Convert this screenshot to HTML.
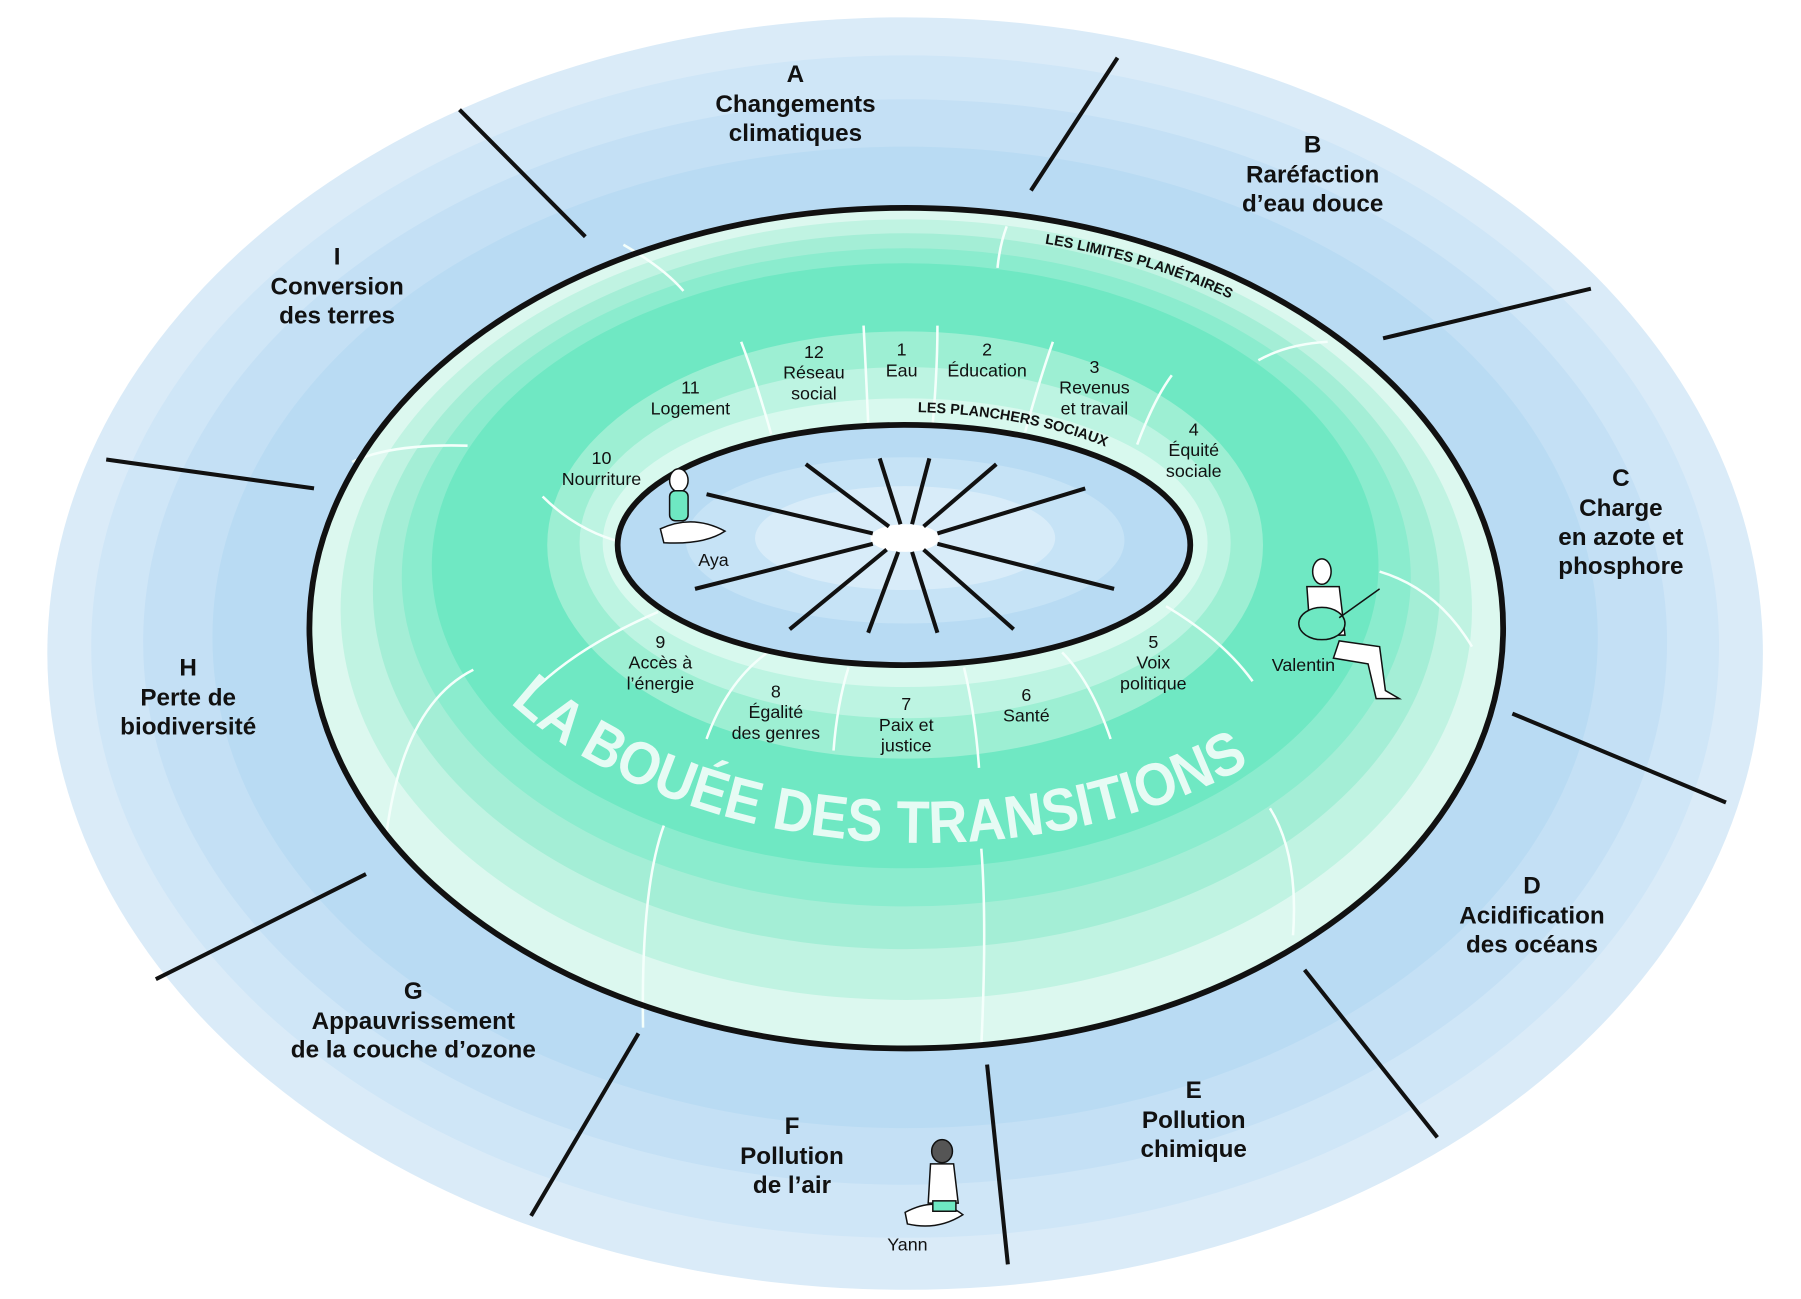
<!DOCTYPE html>
<html><head><meta charset="utf-8"><style>
html,body{margin:0;padding:0;background:#fff;}
svg{display:block;}
.s{font-family:"Liberation Sans",sans-serif;font-weight:bold;font-size:21px;fill:#111;text-anchor:middle;}
.n{font-family:"Liberation Sans",sans-serif;font-size:15.5px;fill:#111;text-anchor:middle;}
.bl{stroke:#111;stroke-width:3.5;}
.wl{stroke:#f4fffb;stroke-width:2.2;fill:none;}
</style></head><body>
<svg width="1801" height="1299" viewBox="0 0 1560 1125" preserveAspectRatio="none">
<rect width="1560" height="1125" fill="#fff"/>
<ellipse cx="784" cy="566" rx="743" ry="551" fill="#daebf8"/>
<ellipse cx="784" cy="560" rx="705" ry="512" fill="#cfe6f7"/>
<ellipse cx="784" cy="556" rx="660" ry="470" fill="#c4e0f5"/>
<ellipse cx="784" cy="552" rx="600" ry="425" fill="#b9dbf3"/>
<g class="bl">
<line x1="398" y1="95" x2="507" y2="205"/>
<line x1="968" y1="50" x2="893" y2="165"/>
<line x1="1378" y1="250" x2="1198" y2="293"/>
<line x1="1310" y1="618" x2="1495" y2="695"/>
<line x1="1130" y1="840" x2="1245" y2="985"/>
<line x1="855" y1="922" x2="873" y2="1095"/>
<line x1="553" y1="895" x2="460" y2="1053"/>
<line x1="317" y1="757" x2="135" y2="848"/>
<line x1="92" y1="398" x2="272" y2="423"/>
</g>
<ellipse cx="785" cy="544" rx="517" ry="364" fill="#dcf8ef"/>
<ellipse cx="785" cy="528" rx="490" ry="338" fill="#c0f3e2"/>
<ellipse cx="785" cy="512" rx="462" ry="310" fill="#a4eed6"/>
<ellipse cx="785" cy="500" rx="437" ry="285" fill="#8becce"/>
<ellipse cx="784" cy="490" rx="410" ry="262" fill="#6fe8c3"/>
<ellipse cx="784" cy="472" rx="310" ry="185" fill="#9defd3"/>
<ellipse cx="784" cy="470" rx="282" ry="152" fill="#bdf4e2"/>
<ellipse cx="784" cy="470" rx="262" ry="125" fill="#d8f9ee"/>
<g class="wl">
<path d="M872,196 Q866,212 864,232"/>
<path d="M540,212 Q575,232 592,252"/>
<path d="M1090,312 Q1115,298 1150,296"/>
<path d="M1195,495 Q1245,510 1275,560"/>
<path d="M305,400 Q340,384 405,386"/>
<path d="M335,720 Q350,610 410,580"/>
<path d="M557,890 Q555,770 575,715"/>
<path d="M850,906 Q855,800 850,735"/>
<path d="M1120,810 Q1125,740 1100,700"/>
<path d="M642,296 Q655,330 668,376"/>
<path d="M748,282 Q750,320 752,366"/>
<path d="M812,282 Q812,320 808,366"/>
<path d="M912,296 Q900,330 888,374"/>
<path d="M1015,325 Q1000,345 985,385"/>
<path d="M460,600 Q500,560 570,530"/>
<path d="M612,640 Q630,590 665,565"/>
<path d="M722,650 Q725,610 735,578"/>
<path d="M848,665 Q845,620 835,578"/>
<path d="M962,640 Q945,590 920,565"/>
<path d="M1085,590 Q1060,555 1010,525"/>
<path d="M470,430 Q500,460 540,470" />
</g>
<ellipse cx="785" cy="544" rx="517" ry="364" fill="none" stroke="#111" stroke-width="5"/>
<ellipse cx="783" cy="472" rx="248" ry="104" fill="#b8dbf3" stroke="#111" stroke-width="5"/>
<ellipse cx="784" cy="468" rx="190" ry="72" fill="#c6e3f6"/>
<ellipse cx="784" cy="466" rx="130" ry="45" fill="#d8ecf9"/>
<ellipse cx="784" cy="466" rx="30" ry="12" fill="#fff"/>
<g class="bl">
<line x1="612" y1="428" x2="756" y2="462"/><line x1="965" y1="510" x2="812" y2="471"/>
<line x1="698" y1="402" x2="770" y2="456"/><line x1="878" y1="545" x2="800" y2="476"/>
<line x1="762" y1="397" x2="780" y2="454"/><line x1="812" y1="548" x2="790" y2="478"/>
<line x1="805" y1="397" x2="790" y2="454"/><line x1="752" y1="548" x2="778" y2="478"/>
<line x1="863" y1="402" x2="800" y2="456"/><line x1="684" y1="545" x2="768" y2="476"/>
<line x1="940" y1="423" x2="812" y2="462"/><line x1="602" y1="510" x2="756" y2="471"/>
</g>
<defs>
<path id="big" d="M 360,440 A 440 290 0 0 0 1240,440"/>
<path id="lp" d="M 905,211 A 495 345 0 0 1 1100,276"/>
<path id="ps" d="M 795,357 A 262 116 0 0 1 980,397"/>
</defs>
<text font-family="Liberation Sans,sans-serif" font-weight="bold" font-size="52" fill="#e6fbf4" text-anchor="middle"><textPath href="#big" startOffset="46%" textLength="680" lengthAdjust="spacingAndGlyphs">LA BOUÉE DES TRANSITIONS</textPath></text>
<text font-family="Liberation Sans,sans-serif" font-weight="bold" font-size="12.5" fill="#111"><textPath href="#lp">LES LIMITES PLANÉTAIRES</textPath></text>
<text font-family="Liberation Sans,sans-serif" font-weight="bold" font-size="12.5" fill="#111"><textPath href="#ps">LES PLANCHERS SOCIAUX</textPath></text>
<text class="s" x="689" y="71">A<tspan x="689" dy="26">Changements</tspan><tspan x="689" dy="25">climatiques</tspan></text>
<text class="s" x="1137" y="132">B<tspan x="1137" dy="26">Raréfaction</tspan><tspan x="1137" dy="25">d’eau douce</tspan></text>
<text class="s" x="1404" y="421">C<tspan x="1404" dy="26">Charge</tspan><tspan x="1404" dy="25">en azote et</tspan><tspan x="1404" dy="25">phosphore</tspan></text>
<text class="s" x="1327" y="774">D<tspan x="1327" dy="26">Acidification</tspan><tspan x="1327" dy="25">des océans</tspan></text>
<text class="s" x="1034" y="951">E<tspan x="1034" dy="26">Pollution</tspan><tspan x="1034" dy="25">chimique</tspan></text>
<text class="s" x="686" y="982">F<tspan x="686" dy="26">Pollution</tspan><tspan x="686" dy="25">de l’air</tspan></text>
<text class="s" x="358" y="865">G<tspan x="358" dy="26">Appauvrissement</tspan><tspan x="358" dy="25">de la couche d’ozone</tspan></text>
<text class="s" x="163" y="585">H<tspan x="163" dy="26">Perte de</tspan><tspan x="163" dy="25">biodiversité</tspan></text>
<text class="s" x="292" y="229">I<tspan x="292" dy="26">Conversion</tspan><tspan x="292" dy="25">des terres</tspan></text>
<text class="n" x="781" y="308">1<tspan x="781" dy="18">Eau</tspan></text>
<text class="n" x="855" y="308">2<tspan x="855" dy="18">Éducation</tspan></text>
<text class="n" x="948" y="323">3<tspan x="948" dy="18">Revenus</tspan><tspan x="948" dy="18">et travail</tspan></text>
<text class="n" x="1034" y="377">4<tspan x="1034" dy="18">Équité</tspan><tspan x="1034" dy="18">sociale</tspan></text>
<text class="n" x="999" y="561">5<tspan x="999" dy="18">Voix</tspan><tspan x="999" dy="18">politique</tspan></text>
<text class="n" x="889" y="607">6<tspan x="889" dy="18">Santé</tspan></text>
<text class="n" x="785" y="615">7<tspan x="785" dy="18">Paix et</tspan><tspan x="785" dy="18">justice</tspan></text>
<text class="n" x="672" y="604">8<tspan x="672" dy="18">Égalité</tspan><tspan x="672" dy="18">des genres</tspan></text>
<text class="n" x="572" y="561">9<tspan x="572" dy="18">Accès à</tspan><tspan x="572" dy="18">l’énergie</tspan></text>
<text class="n" x="521" y="402">10<tspan x="521" dy="18">Nourriture</tspan></text>
<text class="n" x="598" y="341">11<tspan x="598" dy="18">Logement</tspan></text>
<text class="n" x="705" y="310">12<tspan x="705" dy="18">Réseau</tspan><tspan x="705" dy="18">social</tspan></text>
<g stroke="#111" stroke-width="1.3">
<ellipse cx="588" cy="416" rx="8" ry="10" fill="#fff"/>
<rect x="580" y="425" width="16" height="26" rx="5" fill="#6ee8c2"/>
<path d="M572,458 Q600,445 628,460 Q610,472 575,470Z" fill="#fff"/>
<ellipse cx="1145" cy="495" rx="8" ry="11" fill="#fff"/>
<path d="M1132,508 L1160,508 L1165,550 L1135,550Z" fill="#fff"/>
<ellipse cx="1145" cy="540" rx="20" ry="14" fill="#6ee8c2"/>
<line x1="1160" y1="535" x2="1195" y2="510"/>
<path d="M1160,555 L1195,560 L1200,598 L1212,605 L1192,605 L1185,575 L1155,570Z" fill="#fff"/>
<ellipse cx="816" cy="997" rx="9" ry="10" fill="#555"/>
<path d="M806,1008 L826,1008 L830,1042 L804,1042Z" fill="#fff"/>
<path d="M784,1050 Q812,1035 834,1052 Q812,1066 786,1060Z" fill="#fff"/>
<rect x="808" y="1040" width="20" height="9" fill="#6ee8c2"/>
</g>
<text class="n" x="618" y="490">Aya</text>
<text class="n" x="1129" y="581">Valentin</text>
<text class="n" x="786" y="1083">Yann</text>
</svg>
</body></html>
